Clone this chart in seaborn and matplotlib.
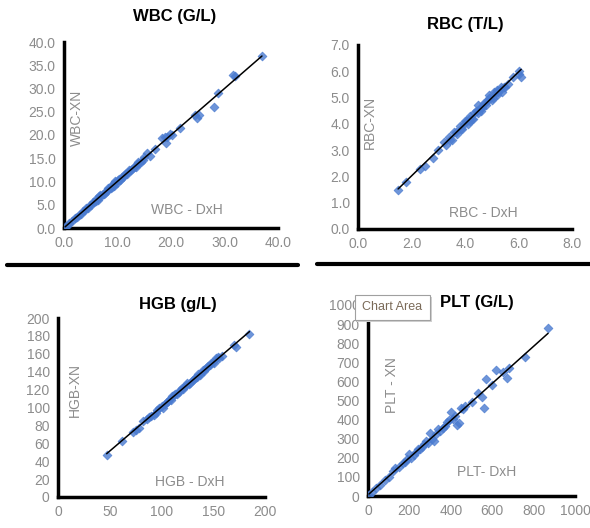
import seaborn as sns
import matplotlib.pyplot as plt
from matplotlib.patches import Rectangle
from matplotlib.lines import Line2D

# WBC (G/L): DxH vs XN
wbc_dxh = [0.2, 0.5, 1.0, 1.5, 2.0, 2.4, 2.8, 3.2, 3.5, 3.9, 4.2, 4.5, 4.8, 5.1, 5.4,
           5.7, 6.0, 6.3, 6.6, 6.9, 7.2, 7.5, 7.8, 8.1, 8.4, 8.7, 9.0, 9.3, 9.6, 9.9,
           10.2, 10.5, 10.8, 11.1, 11.4, 11.8, 12.2, 12.6, 13.0, 13.4, 13.8, 14.3,
           14.8, 15.5, 16.0, 17.0, 18.4, 19.0, 19.3, 20.2, 21.6, 24.4, 24.8, 25.2,
           28.0, 28.7, 31.5, 32.0, 37.0, 5.9, 6.8, 7.6, 8.3, 8.9, 9.4, 10.0, 10.6,
           11.3, 12.0, 12.8, 13.6, 14.1, 15.0, 18.8, 19.8]
wbc_xn = [0.3, 0.4, 1.1, 1.4, 2.1, 2.3, 2.9, 3.1, 3.6, 3.8, 4.4, 4.4, 5.0, 5.0, 5.6,
          5.6, 6.2, 6.1, 6.8, 6.8, 7.4, 7.3, 8.0, 7.9, 8.7, 8.5, 9.2, 9.1, 10.2, 9.7,
          10.5, 10.3, 11.0, 10.9, 11.6, 11.6, 12.4, 12.4, 13.2, 13.2, 14.1, 14.3,
          14.6, 16.2, 15.4, 17.0, 19.3, 18.3, 19.6, 20.0, 21.6, 24.3, 23.6, 24.4,
          26.0, 29.0, 33.0, 32.6, 37.0, 5.8, 7.0, 7.5, 8.5, 8.8, 9.7, 10.4, 10.5,
          11.4, 12.0, 12.7, 13.8, 14.0, 15.2, 19.6, 20.3]

# RBC (T/L)
rbc_dxh = [1.5, 1.8, 2.3, 2.5, 2.8, 3.0, 3.2, 3.3, 3.4, 3.5, 3.6, 3.7, 3.8, 3.9,
           4.0, 4.1, 4.2, 4.3, 4.4, 4.5, 4.5, 4.6, 4.7, 4.8, 4.9, 5.0, 5.1, 5.2,
           5.3, 5.4, 5.5, 5.6, 5.8, 6.0, 6.1, 6.0, 4.2, 4.6, 4.9, 5.2, 3.45, 3.65,
           3.85, 4.05, 4.25, 4.35, 4.55, 4.65, 4.75, 4.85, 4.95, 5.05, 5.15, 5.25,
           5.35, 5.45, 3.95, 4.15, 4.45]
rbc_xn = [1.5, 1.8, 2.3, 2.4, 2.7, 3.0, 3.3, 3.2, 3.5, 3.4, 3.7, 3.6, 3.9, 3.8,
          4.1, 4.0, 4.3, 4.2, 4.5, 4.4, 4.7, 4.5, 4.8, 4.7, 5.0, 4.9, 5.2, 5.1,
          5.3, 5.2, 5.4, 5.5, 5.8, 5.9, 5.8, 6.0, 4.1, 4.6, 5.1, 5.3, 3.4, 3.7,
          3.8, 4.1, 4.2, 4.4, 4.6, 4.6, 4.8, 4.9, 5.0, 5.0, 5.2, 5.2, 5.4, 5.4,
          4.0, 4.2, 4.5]

# HGB (g/L)
hgb_dxh = [47, 62, 72, 75, 78, 82, 86, 90, 93, 96, 98, 100, 103, 106, 108, 110, 112,
           115, 118, 120, 122, 125, 127, 130, 132, 135, 138, 140, 143, 145, 148, 150,
           153, 155, 158, 170, 172, 185, 88, 95, 101, 105, 109, 113, 117, 121, 124,
           128, 131, 134, 137, 141, 144, 147, 151, 156]
hgb_xn = [47, 63, 73, 75, 77, 85, 87, 90, 92, 97, 99, 102, 104, 107, 110, 113, 114,
          115, 120, 122, 123, 127, 126, 131, 133, 137, 138, 142, 144, 146, 150, 151,
          155, 156, 158, 170, 168, 182, 89, 94, 100, 106, 108, 115, 117, 121, 125,
          127, 132, 134, 136, 141, 145, 147, 150, 155]

# PLT (G/L)
plt_dxh = [5, 20, 40, 60, 80, 100, 120, 130, 150, 170, 190, 200, 210, 230, 250, 270,
           290, 300, 310, 320, 340, 350, 370, 390, 400, 420, 430, 440, 450, 470, 500,
           530, 550, 560, 570, 600, 620, 650, 670, 680, 760, 870, 180, 220, 240, 260,
           280, 330, 360, 380, 410, 460]
plt_xn = [5, 20, 40, 60, 85, 100, 130, 145, 150, 175, 195, 220, 200, 230, 245, 270,
          280, 330, 300, 290, 350, 340, 365, 400, 440, 420, 370, 380, 460, 470, 490,
          540, 520, 460, 610, 580, 660, 650, 620, 670, 730, 880, 180, 215, 245, 255,
          290, 325, 355, 385, 405, 455]

W, H = 590, 528
BLUE = '#4a7bd0'
GRAY = '#8c8c8c'

sns.set_theme(style='white')
plt.rcParams['font.family'] = ['Liberation Sans', 'DejaVu Sans']

fig = plt.figure(figsize=(W / 100, H / 100), dpi=100)


def px_axes(x0, x1, y_bottom, y_top):
    return fig.add_axes([x0 / W, 1 - y_bottom / H, (x1 - x0) / W, (y_bottom - y_top) / H])


def panel(ax, x, y, xmax, ymax, xstep, ystep, fmt, title, title_xy, ylab, ylab_xy, xlab, xlab_xy):
    sns.scatterplot(x=x, y=y, ax=ax, marker='D', s=20, color=BLUE, edgecolor=BLUE,
                    linewidth=0.6, alpha=0.8, zorder=3)
    sns.regplot(x=x, y=y, ax=ax, scatter=False, ci=None,
                line_kws={'color': 'black', 'lw': 1.1, 'zorder': 4})
    ax.set_xlim(0, xmax)
    ax.set_ylim(0, ymax)
    xt = [i * xstep for i in range(int(round(xmax / xstep)) + 1)]
    yt = [i * ystep for i in range(int(round(ymax / ystep)) + 1)]
    ax.set_xticks(xt)
    ax.set_yticks(yt)
    ax.set_xticklabels([fmt.format(v) for v in xt])
    ax.set_yticklabels([fmt.format(v) for v in yt])
    ax.tick_params(labelsize=10, labelcolor=GRAY, length=0, pad=6)
    ax.set_xlabel('')
    ax.set_ylabel('')
    for s in ['top', 'right']:
        ax.spines[s].set_visible(False)
    for s in ['left', 'bottom']:
        ax.spines[s].set_color('black')
        ax.spines[s].set_linewidth(2.5)
    ax.set_facecolor('none')
    fig.text(title_xy[0] / W, 1 - title_xy[1] / H, title, ha='center', va='center',
             fontsize=12, fontweight='bold', color='black')
    fig.text(ylab_xy[0] / W, 1 - ylab_xy[1] / H, ylab, ha='center', va='center',
             rotation=90, fontsize=10, color=GRAY)
    fig.text(xlab_xy[0] / W, 1 - xlab_xy[1] / H, xlab, ha='center', va='center',
             fontsize=10, color=GRAY)


ax1 = px_axes(64, 278, 228, 42)
panel(ax1, wbc_dxh, wbc_xn, 40, 40, 10, 5, '{:.1f}', 'WBC (G/L)', (175, 17),
      'WBC-XN', (77, 118), 'WBC - DxH', (187, 210))

ax2 = px_axes(358, 572, 229, 45)
panel(ax2, rbc_dxh, rbc_xn, 8, 7, 2, 1, '{:.1f}', 'RBC (T/L)', (465, 25),
      'RBC-XN', (370, 122), 'RBC - DxH', (483, 213))

ax3 = px_axes(58, 265, 497, 318)
panel(ax3, hgb_dxh, hgb_xn, 200, 200, 50, 20, '{:.0f}', 'HGB (g/L)', (178, 305),
      'HGB-XN', (75, 390), 'HGB - DxH', (190, 482))

ax4 = px_axes(368, 575, 496, 305)
panel(ax4, plt_dxh, plt_xn, 1000, 1000, 200, 100, '{:.0f}', 'PLT (G/L)', (477, 302),
      'PLT - XN', (392, 385), 'PLT- DxH', (487, 472))

# separator lines between the rows
fig.add_artist(Line2D([7 / W, 298 / W], [1 - 265 / H, 1 - 265 / H], color='black', lw=3))
fig.add_artist(Line2D([317 / W, 1.0], [1 - 264 / H, 1 - 264 / H], color='black', lw=3))

# "Chart Area" tooltip
fig.add_artist(Rectangle((357 / W, 1 - 322 / H), 75 / W, 25 / H, facecolor='#d0d0d0',
                         edgecolor='none', zorder=9))
fig.add_artist(Rectangle((355 / W, 1 - 320 / H), 75 / W, 25 / H, facecolor='white',
                         edgecolor='#a0a0a0', lw=0.8, zorder=10))
fig.text(392 / W, 1 - 307 / H, 'Chart Area', ha='center', va='center', fontsize=9,
         color='#7a6a58', zorder=11)

fig.savefig('out.png', dpi=100)
